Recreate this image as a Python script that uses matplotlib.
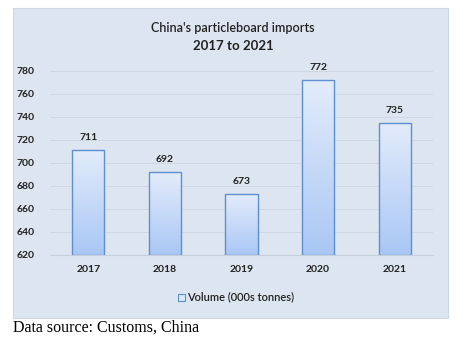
import matplotlib.pyplot as plt
import matplotlib.patches as patches
import numpy as np

years = ["2017", "2018", "2019", "2020", "2021"]
volume = [711, 692, 673, 772, 735]
yticks = [620, 640, 660, 680, 700, 720, 740, 760, 780]

W, H = 468, 343
fig = plt.figure(figsize=(W / 100, H / 100), dpi=100)
fig.patch.set_facecolor("white")

# chart panel background
fig.patches.append(patches.Rectangle((13 / W, 1 - 318 / H), 435 / W, 310 / H,
                                     transform=fig.transFigure, facecolor="#dce5f0",
                                     edgecolor="#d0d8e2", linewidth=0.8, zorder=-5))

ax = fig.add_axes([50 / W, 1 - 255 / H, 383 / W, 184 / H])
ax.set_zorder(2)
ax.set_facecolor("none")
ax.set_yticks(yticks)
ax.grid(axis="y", color="#ced7e2", linewidth=0.7)
ax.set_axisbelow(True)
for s in ax.spines.values():
    s.set_visible(False)
ax.spines["bottom"].set_visible(True)
ax.spines["bottom"].set_color("#c6d0dc")
ax.tick_params(length=0, labelsize=7.5)
ax.tick_params(axis="y", pad=11)
ax.tick_params(axis="x", pad=7)
x = np.arange(len(years))
ax.set_xticks(x)
ax.set_xticklabels(years)
for lab in ax.get_xticklabels() + ax.get_yticklabels():
    lab.set_fontfamily("Lato")
    lab.set_fontweight("bold")
    lab.set_color("#222222")

grad = np.linspace(0, 1, 256).reshape(-1, 1)
cmap = plt.matplotlib.colors.LinearSegmentedColormap.from_list("bar", ["#a9c7f5", "#e3ecfb"])
bw = 0.42
for xi, v in zip(x, volume):
    rect = patches.Rectangle((xi - bw / 2, 620), bw, v - 620, facecolor="none",
                             edgecolor="#5e8fd0", linewidth=1.0, zorder=3)
    ax.add_patch(rect)
    im = ax.imshow(grad, cmap=cmap, aspect="auto", origin="lower",
                   extent=(xi - bw / 2, xi + bw / 2, 620, v), zorder=2)
    im.set_clip_path(rect)
    ax.text(xi, v + 7, str(v), ha="center", va="bottom", fontsize=7.5,
            fontfamily="Lato", fontweight="bold", color="#222222", clip_on=False)

ax.set_xlim(-0.5, len(years) - 0.5)
ax.set_ylim(620, 780)

fig.text(233 / W, 1 - 28 / H, "China's particleboard imports", ha="center", va="center",
         fontsize=9, fontfamily="Lato", fontweight="semibold", color="#222222")
fig.text(233 / W, 1 - 46 / H, "2017 to 2021", ha="center", va="center",
         fontsize=9.5, fontfamily="Lato", fontweight="bold", color="#222222")

# legend
fig.patches.append(patches.Rectangle((178 / W, 1 - 301 / H), 7 / W, 7 / H,
                                     transform=fig.transFigure, facecolor="#dbe7fb",
                                     edgecolor="#5e8fd0", linewidth=0.8))
fig.text(187 / W, 1 - 297 / H, "Volume (000s tonnes)", ha="left", va="center",
         fontsize=8, fontfamily="Lato", fontweight="semibold", color="#222222")

fig.text(13 / W, 1 - 328 / H, "Data source: Customs, China", ha="left", va="center",
         fontsize=11.5, fontfamily="Liberation Serif", color="black")

fig.savefig("out.png", dpi=100)
